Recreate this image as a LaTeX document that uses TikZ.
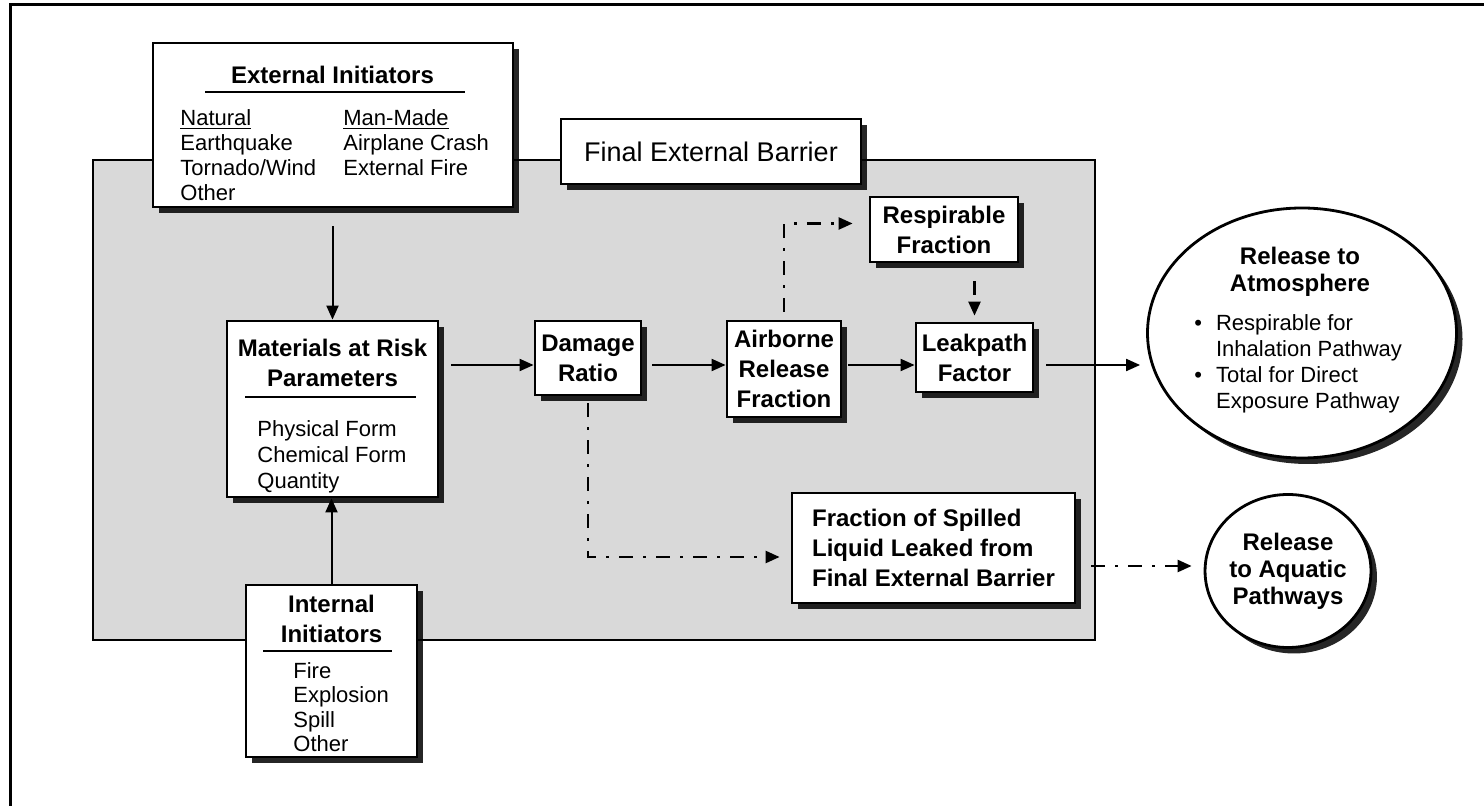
\documentclass[tikz,border=0pt]{standalone}
\usepackage{fontspec}
\setmainfont{Liberation Sans}
\usetikzlibrary{shadows,arrows.meta,shapes.geometric}
\definecolor{bg}{RGB}{217,217,217}
\tikzset{
  box/.style={draw, line width=1.4pt, fill=white, inner sep=0pt,
    drop shadow={shadow xshift=3pt, shadow yshift=-3pt, fill=black, opacity=0.85}},
  ell/.style={box, ellipse},
  ttl/.style={font=\bfseries\fontsize{12}{15}\selectfont, align=center, inner sep=0pt},
  lst/.style={font=\fontsize{11}{12.5}\selectfont, align=left, inner sep=0pt, anchor=north west},
  flow/.style={line width=1pt, -{Triangle[length=7pt,width=6pt]}},
  dd/.style={flow, line width=1.2pt, dash pattern=on 7pt off 5pt on 1.5pt off 5pt},
  dsh/.style={flow, line width=1.2pt, dash pattern=on 7pt off 4pt},
}
\begin{document}
\begin{tikzpicture}[x=0.5pt,y=-0.5pt]
\useasboundingbox (0,0) rectangle (1484,806);
% outer frame
\draw[line width=1.5pt] (10,5) rectangle (1540,850);
% final external barrier region
\draw[line width=1pt, fill=bg] (93,160) rectangle (1095,640);

% boxes
\node[box, minimum width=180pt, minimum height=82pt] (ext) at (333,125) {};
\node[box, minimum width=150pt, minimum height=32.5pt, font=\fontsize{13.5}{16}\selectfont] (feb) at (711,151.5) {Final External Barrier};
\node[box, minimum width=105.5pt, minimum height=88pt] (mat) at (332.5,409) {};
\node[box, minimum width=85.5pt, minimum height=86pt] (int) at (331.5,671) {};
\node[box, ttl, minimum width=53pt, minimum height=37pt] (dmg) at (588,358) {Damage\\Ratio};
\node[box, ttl, minimum width=57pt, minimum height=48pt] (arf) at (784,369) {Airborne\\Release\\Fraction};
\node[box, ttl, minimum width=58.5pt, minimum height=34.5pt] (lpf) at (974.5,357.5) {Leakpath\\Factor};
\node[box, ttl, minimum width=74pt, minimum height=32.5pt] (rsp) at (944,229.5) {Respirable\\Fraction};
\node[box, ttl, align=left, minimum width=141.5pt, minimum height=55pt] (fsl) at (933.5,548) {Fraction of Spilled\\Liquid Leaked from\\Final External Barrier};
\node[ell, minimum width=154.5pt, minimum height=125pt] (atm) at (1302,333) {};
\node[ell, ttl, minimum width=58.5pt, minimum height=76.5pt, font=\bfseries\fontsize{12}{13.5}\selectfont] (aqu) at (1288,571) {Release\\to Aquatic\\Pathways};

% texts of external initiators
\node[ttl] (extt) at (332.5,75) {External Initiators};
\draw[line width=1.1pt] (205,92) coordinate (extl1) -- (465,92) coordinate (extl2);
\node[lst] (nat) at (180,109) {\underline{Natural}\\Earthquake\\Tornado/Wind\\Other};
\node[lst] (man) at (343,109) {\underline{Man-Made}\\Airplane Crash\\External Fire};

% texts of materials at risk
\node[ttl] (matt) at (332.5,362.5) {Materials at Risk\\Parameters};
\draw[line width=1.1pt] (245,397) coordinate (matl1) -- (416,397) coordinate (matl2);
\node[lst, font=\fontsize{11}{13}\selectfont] (matl) at (257,420) {Physical Form\\Chemical Form\\Quantity};

% texts of internal initiators
\node[ttl] (intt) at (331.5,618.5) {Internal\\Initiators};
\draw[line width=1.1pt] (263,651) coordinate (intl1) -- (392,651) coordinate (intl2);
\node[lst, font=\fontsize{11}{12.2}\selectfont] (intl) at (293,662) {Fire\\Explosion\\Spill\\Other};

% texts of release to atmosphere
\node[ttl, font=\bfseries\fontsize{12}{13.5}\selectfont] (atmt) at (1300,271.5) {Release to\\Atmosphere};
\node[lst, font=\fontsize{11}{13}\selectfont] (atml) at (1194,314) {\textbullet\hspace{7pt}Respirable for\\\phantom{\textbullet}\hspace{7pt}Inhalation Pathway\\\textbullet\hspace{7pt}Total for Direct\\\phantom{\textbullet}\hspace{7pt}Exposure Pathway};

% connectors
\coordinate (fl) at (0,365);
\draw[flow, shorten <=9pt] (mat.north |- ext.south) -- (mat.north);
\draw[flow] (int.north) -- (int.north |- mat.south);
\draw[flow, shorten <=6pt] (mat.east |- fl) -- (dmg.west |- fl);
\draw[flow, shorten <=5pt] (dmg.east |- fl) -- (arf.west |- fl);
\draw[flow, shorten <=3pt] (arf.east |- fl) -- (lpf.west |- fl);
\draw[flow, shorten <=6pt, shorten >=3pt] (lpf.east |- fl) -- (atm.west |- fl);
\draw[dsh, shorten <=9pt, shorten >=3pt] (rsp.south -| lpf.north) -- (lpf.north);
\draw[dd, shorten <=4pt, shorten >=8pt] (arf.north) |- ([yshift=3pt]rsp.west);
\draw[dd, shorten <=3.5pt, shorten >=5.5pt] (dmg.south) |- ([yshift=-4.5pt]fsl.west);
\draw[dd, shorten <=7.5pt, shorten >=6pt] ([yshift=2.5pt]fsl.east |- aqu.west) -- ([yshift=2.5pt]aqu.west);
\end{tikzpicture}
\end{document}
